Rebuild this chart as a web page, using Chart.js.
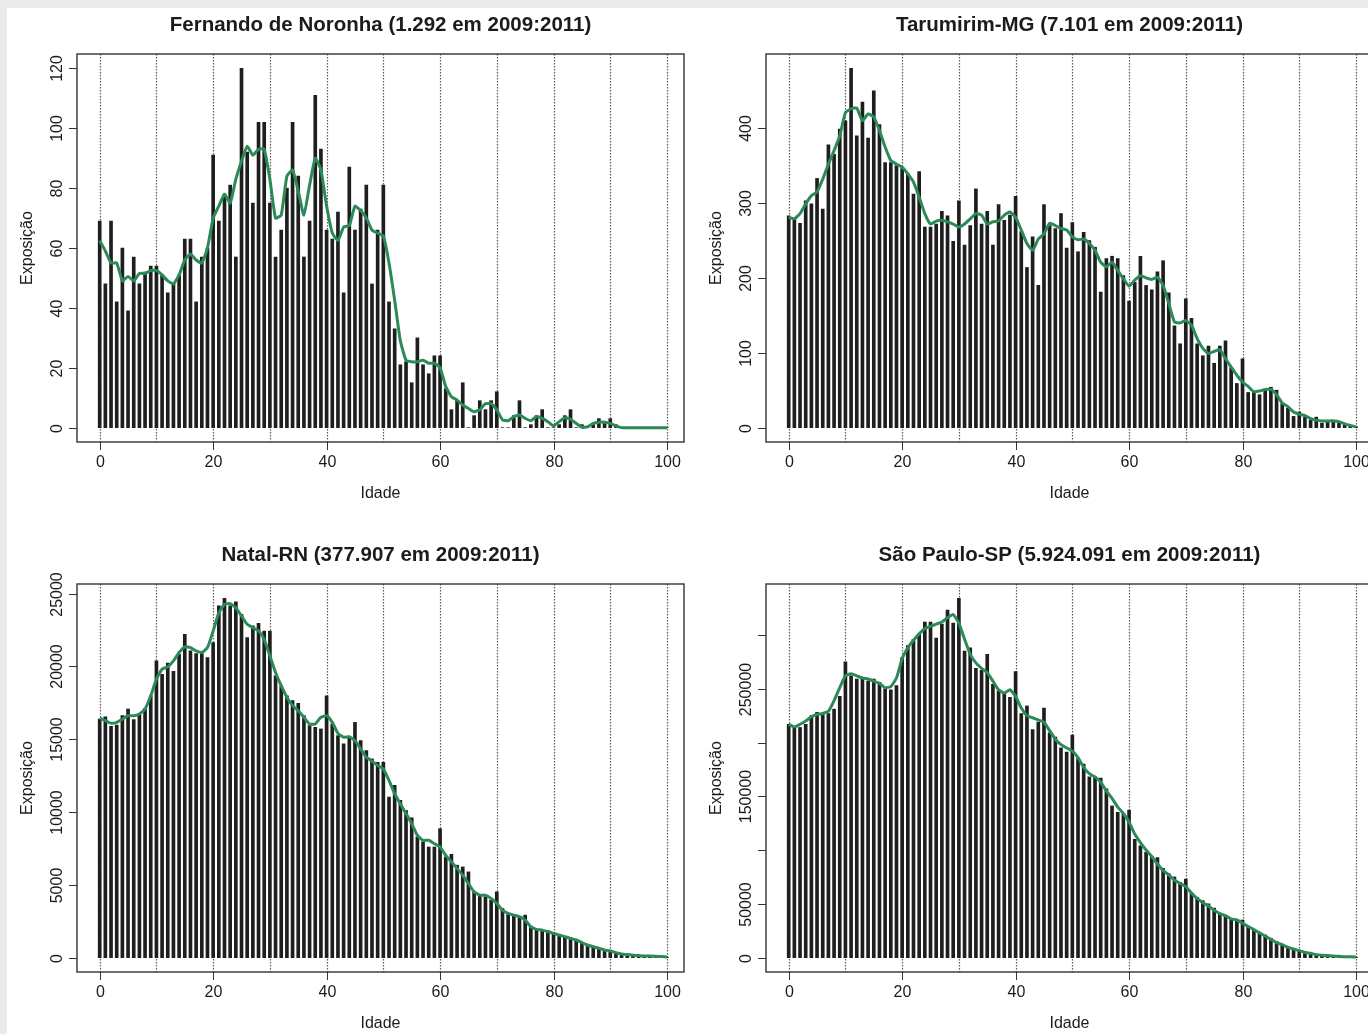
<!DOCTYPE html>
<html lang="pt-BR">
<head>
<meta charset="utf-8">
<title>Exposição por idade, 2009:2011</title>
<script src="https://cdn.jsdelivr.net/npm/chart.js@4.4.1/dist/chart.umd.min.js"></script>
<style>
  html, body { margin: 0; padding: 0; background: #ebebeb; overflow: hidden; width: 1368px; height: 1034px; }
  #sheet { position: absolute; left: 7px; top: 8px; width: 1361px; height: 1026px; background: #fff; }
  .panel { position: absolute; width: 690px; height: 530px; }
</style>
</head>
<body>
<div id="sheet"></div>
<div class="panel" style="left:0;top:0"><canvas id="noronha" width="690" height="530"></canvas></div>
<div class="panel" style="left:689px;top:0"><canvas id="tarumirim" width="690" height="530"></canvas></div>
<div class="panel" style="left:0;top:530px"><canvas id="natal" width="690" height="530"></canvas></div>
<div class="panel" style="left:689px;top:530px"><canvas id="saopaulo" width="690" height="530"></canvas></div>
<script>
// Ages 0..100
const ages = Array.from({ length: 101 }, (_, i) => i);
const gridAges = [0, 10, 20, 30, 40, 50, 60, 70, 80, 90, 100];
const xTickAges = [0, 20, 40, 60, 80, 100];

// Fernando de Noronha
const noronhaExp = [
  69, 48, 69, 42, 60, 39, 57, 48, 52, 54,
  54, 51, 45, 48, 51, 63, 63, 42, 57, 60,
  91, 69, 78, 81, 57, 120, 92, 75, 102, 102,
  75, 57, 66, 80, 102, 84, 57, 69, 111, 93,
  66, 63, 72, 45, 87, 66, 73, 81, 48, 66,
  81, 42, 33, 21, 22, 15, 30, 21, 18, 24,
  24, 13, 6, 9, 15, 0, 4, 9, 6, 9,
  12, 0, 0, 4, 9, 0, 1, 4, 6, 0,
  0, 1, 4, 6, 0, 1, 0, 1, 3, 2,
  3, 1, 0, 0, 0, 0, 0, 0, 0, 0, 0
];
const noronhaSmooth = [
  62.5, 59, 55, 55, 49, 50.5, 49, 51.5, 51.5, 52.5,
  52.5, 51, 49, 48, 51, 56, 58, 56, 55, 60,
  70, 74, 78, 75, 83, 89, 94, 91, 93, 93,
  83, 70, 71, 84, 86, 79, 71, 81, 90, 86,
  74, 65, 62.5, 67, 67.5, 74, 72.5, 70, 66, 65,
  64, 55, 42.5, 29, 22.5, 22, 22, 22.5, 21.5, 21.5,
  20, 13.7, 10.3, 9.2, 7.5, 6.4, 5.3, 6, 8, 8,
  5.9, 2.6, 2.3, 3.7, 4.2, 3.1, 2.3, 3.7, 3.1, 2,
  0.6, 2, 3.3, 2.8, 1.4, 0.1, 0.3, 1.4, 1.8, 1.8,
  1.4, 0.6, 0, 0, 0, 0, 0, 0, 0, 0, 0
];
const noronhaTicks = [0, 20, 40, 60, 80, 100, 120];
const noronhaTickLabels = ['0', '20', '40', '60', '80', '100', '120'];

// Tarumirim-MG
const tarumirimExp = [
  283, 280, 273, 303, 299, 333, 292, 378, 365, 399,
  410, 480, 390, 435, 387, 450, 405, 354, 354, 350,
  346, 339, 312, 342, 268, 268, 272, 289, 283, 249,
  303, 244, 270, 319, 272, 289, 244, 298, 277, 284,
  309, 262, 214, 255, 190, 298, 270, 266, 286, 240,
  274, 235, 261, 250, 241, 181, 226, 229, 226, 203,
  169, 194, 229, 190, 184, 208, 223, 180, 136, 112,
  172, 146, 112, 96, 109, 86, 109, 116, 80, 59,
  92, 47, 47, 44, 49, 54, 50, 32, 26, 15,
  21, 14, 10, 14, 6, 8, 10, 7, 4, 3, 1
];
const tarumirimSmooth = [
  281, 279, 286, 299, 310, 315, 332, 352, 370, 390,
  421, 426, 427, 410, 419, 415, 397, 375, 357, 352,
  348, 339, 328, 308, 286, 272, 276, 277, 275, 272,
  268, 272, 279, 286, 284, 272, 275, 276, 284, 288,
  281, 264, 246, 237, 252, 259, 273, 270, 266, 264,
  255, 251, 252, 246, 237, 221, 215, 221, 210, 199,
  189, 197, 203, 200, 198, 201, 190, 166, 141, 140,
  143, 137, 119, 106, 99, 102, 104, 92, 81, 70,
  61, 55, 48, 49, 51, 51, 44, 33, 28, 21,
  18, 16, 12, 10, 9, 9, 9, 8, 5, 3, 1
];
const tarumirimTicks = [0, 100, 200, 300, 400];
const tarumirimTickLabels = ['0', '100', '200', '300', '400'];

// Natal-RN
const natalExp = [
  16390, 16550, 15890, 15980, 16620, 17080, 16350, 16740, 17120, 17990,
  20390, 19470, 20230, 19660, 20840, 22210, 21070, 20890, 20890, 20620,
  21640, 24160, 24680, 24160, 24450, 23580, 21990, 22790, 22970, 22440,
  22440, 19360, 18680, 17990, 17650, 17470, 16620, 15940, 15820, 15710,
  17990, 16050, 15250, 14680, 15140, 16160, 14910, 14220, 13650, 13420,
  13420, 11030, 11830, 10800, 10110, 9610, 8290, 7950, 7600, 7600,
  8860, 6920, 7100, 6350, 6230, 5890, 4520, 4290, 4180, 3950,
  4520, 3380, 3040, 2920, 2810, 2920, 2120, 1890, 1850, 1850,
  1740, 1550, 1440, 1370, 1210, 1030, 910, 750, 640, 530,
  410, 300, 230, 140, 140, 90, 70, 50, 40, 30, 20
];
const natalSmooth = [
  16460, 16280, 16100, 16160, 16390, 16620, 16620, 16740, 17080, 17990,
  19130, 19820, 19980, 20390, 20960, 21350, 21300, 21070, 20960, 21300,
  22440, 23700, 24270, 24320, 24040, 23470, 22900, 22670, 22440, 21870,
  20730, 19590, 18680, 17880, 17310, 16960, 16510, 16050, 16050, 16510,
  16620, 16160, 15410, 15140, 15180, 14910, 14340, 13770, 13500, 13200,
  12970, 12170, 11260, 10570, 9890, 9200, 8400, 8060, 8060, 7830,
  7600, 7030, 6580, 6120, 5660, 5090, 4520, 4290, 4290, 4060,
  3720, 3260, 3040, 2920, 2810, 2580, 2120, 1940, 1890, 1780,
  1670, 1550, 1440, 1320, 1210, 1030, 870, 750, 640, 530,
  460, 340, 250, 210, 160, 140, 110, 110, 90, 70, 50
];
const natalTicks = [0, 5000, 10000, 15000, 20000, 25000];
const natalTickLabels = ['0', '5000', '10000', '15000', '20000', '25000'];

// São Paulo-SP
const saoPauloExp = [
  217000, 214000, 214000, 217000, 225000, 228000, 226000, 227000, 231000, 243000,
  275000, 262000, 259000, 259000, 257000, 259000, 256000, 250000, 249000, 253000,
  279000, 290000, 296000, 301000, 312000, 312000, 297000, 310000, 323000, 311000,
  334000, 285000, 288000, 269000, 267000, 282000, 254000, 248000, 246000, 242000,
  266000, 227000, 234000, 212000, 219000, 232000, 209000, 205000, 195000, 191000,
  207000, 185000, 180000, 168000, 168000, 167000, 157000, 141000, 135000, 134000,
  137000, 110000, 104000, 98000, 94000, 93000, 83000, 78000, 75000, 70000,
  73000, 60000, 56000, 53000, 50000, 46000, 41000, 39000, 36000, 35000,
  35000, 29000, 26000, 23000, 21000, 18000, 15000, 12000, 10000, 8000,
  7000, 5600, 4000, 2800, 1900, 1500, 900, 600, 600, 300, 200
];
const saoPauloSmooth = [
  217000, 214500, 217000, 220000, 224000, 226000, 227000, 229000, 239000, 251000,
  262000, 264000, 262000, 260000, 259000, 257000, 255000, 251000, 252000, 260000,
  278000, 288000, 295000, 301000, 306000, 308000, 310000, 312000, 316000, 319000,
  311000, 296000, 282000, 274000, 269000, 265000, 257000, 249000, 246000, 249000,
  243000, 232000, 225000, 223000, 221000, 219000, 211000, 203000, 198000, 195000,
  192000, 186000, 177000, 171000, 168000, 163000, 155000, 148000, 140000, 134000,
  126000, 115000, 107000, 100000, 94000, 87000, 81000, 77000, 72000, 69000,
  66000, 60000, 55000, 51000, 48000, 44000, 41000, 39000, 36000, 35000,
  32000, 29000, 26000, 23000, 20000, 17000, 14000, 12000, 9600, 8000,
  6500, 4900, 4000, 2800, 2200, 1900, 1500, 1200, 900, 900, 600
];
const saoPauloTicks = [0, 50000, 100000, 150000, 200000, 250000, 300000];
const saoPauloTickLabels = ['0', '50000', '', '150000', '', '250000', ''];

const FONT = '"Liberation Sans", Arial, Helvetica, sans-serif';
const INK = '#1b1b1b';

// R-style frame, axes, dotted age grid and titles
const rAxes = {
  id: 'rAxes',
  beforeDatasetsDraw(chart) {
    const { ctx, chartArea: a, scales: { x } } = chart;
    ctx.save();
    ctx.strokeStyle = '#5c5c5c';
    ctx.lineWidth = 1.2;
    ctx.setLineDash([1.5, 1.5]);
    gridAges.forEach(v => {
      const px = Math.round(x.getPixelForValue(v)) + 0.5;
      ctx.beginPath();
      ctx.moveTo(px, a.top);
      ctx.lineTo(px, a.bottom);
      ctx.stroke();
    });
    ctx.restore();
  },
  afterDraw(chart, args, o) {
    const { ctx, chartArea: a, scales: { x, y } } = chart;
    ctx.save();
    ctx.strokeStyle = '#333';
    ctx.lineWidth = 1.4;
    ctx.strokeRect(a.left, a.top, a.right - a.left, a.bottom - a.top);

    ctx.lineWidth = 1;
    ctx.fillStyle = INK;
    ctx.font = `16px ${FONT}`;
    ctx.textAlign = 'center';
    ctx.textBaseline = 'middle';

    xTickAges.forEach(v => {
      const px = Math.round(x.getPixelForValue(v)) + 0.5;
      ctx.beginPath();
      ctx.moveTo(px, a.bottom);
      ctx.lineTo(px, a.bottom + 8);
      ctx.stroke();
      ctx.fillText(String(v), px, a.bottom + 21);
    });

    o.yTicks.forEach((v, i) => {
      const py = Math.round(y.getPixelForValue(v)) + 0.5;
      ctx.beginPath();
      ctx.moveTo(a.left, py);
      ctx.lineTo(a.left - 8, py);
      ctx.stroke();
      const t = o.yLabels[i];
      if (t) {
        ctx.save();
        ctx.translate(a.left - 19, py);
        ctx.rotate(-Math.PI / 2);
        ctx.fillText(t, 0, 0);
        ctx.restore();
      }
    });

    ctx.fillText('Idade', (a.left + a.right) / 2, a.bottom + 52);
    ctx.save();
    ctx.translate(a.left - 49, (a.top + a.bottom) / 2);
    ctx.rotate(-Math.PI / 2);
    ctx.fillText('Exposição', 0, 0);
    ctx.restore();

    ctx.font = `bold 20.5px ${FONT}`;
    ctx.fillText(o.title, (a.left + a.right) / 2, a.top - 29);
    ctx.restore();
  }
};

function makePanel(id, title, bars, smooth, yTicks, yLabels) {
  const top = Math.max(...bars);
  new Chart(document.getElementById(id), {
    type: 'bar',
    data: {
      datasets: [
        {
          type: 'line',
          data: ages.map((a, i) => ({ x: a, y: smooth[i] })),
          borderColor: '#2b8a57',
          borderWidth: 3,
          pointRadius: 0,
          tension: 0.15,
          order: 0
        },
        {
          type: 'bar',
          data: ages.map((a, i) => ({ x: a, y: bars[i] })),
          backgroundColor: '#1e1e1e',
          barThickness: 3,
          borderWidth: 0,
          order: 1
        }
      ]
    },
    options: {
      responsive: false,
      animation: false,
      events: [],
      layout: { padding: { left: 77, top: 54, right: 6, bottom: 88 } },
      plugins: {
        legend: { display: false },
        tooltip: { enabled: false },
        rAxes: { title, yTicks, yLabels }
      },
      scales: {
        x: { type: 'linear', min: -4, max: 103, offset: false, display: false },
        y: { min: -0.04 * top, max: 1.04 * top, display: false }
      }
    },
    plugins: [rAxes]
  });
}

makePanel('noronha', 'Fernando de Noronha (1.292 em 2009:2011)', noronhaExp, noronhaSmooth, noronhaTicks, noronhaTickLabels);
makePanel('tarumirim', 'Tarumirim-MG (7.101 em 2009:2011)', tarumirimExp, tarumirimSmooth, tarumirimTicks, tarumirimTickLabels);
makePanel('natal', 'Natal-RN (377.907 em 2009:2011)', natalExp, natalSmooth, natalTicks, natalTickLabels);
makePanel('saopaulo', 'São Paulo-SP (5.924.091 em 2009:2011)', saoPauloExp, saoPauloSmooth, saoPauloTicks, saoPauloTickLabels);
</script>
</body>
</html>
